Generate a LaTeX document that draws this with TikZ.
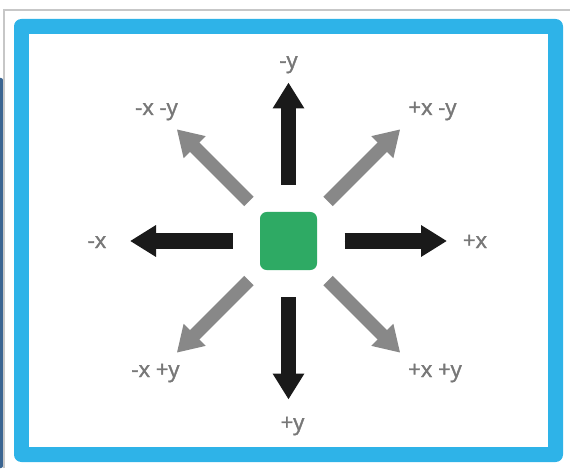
\documentclass[tikz,border=0pt]{standalone}
\usepackage{fontspec}
\setmainfont{Open Sans}
\newfontfamily\lblfont[FakeBold=1.6]{Open Sans}
\usepackage{xcolor}
\usepackage{tikz}
\usetikzlibrary{arrows.meta,calc}
\definecolor{frameblue}{HTML}{2EB3E8}
\definecolor{sideblue}{HTML}{3B6591}
\definecolor{pxgreen}{HTML}{2EAA64}
\definecolor{dirblack}{HTML}{1A1A1A}
\definecolor{dirgray}{HTML}{888888}
\definecolor{lblgray}{HTML}{777777}

\begin{document}
\begin{tikzpicture}[
  x=0.75pt,y=0.75pt,
  font=\lblfont\fontsize{16.5pt}{18pt}\selectfont,
  lbl/.style={text=lblgray,anchor=base,inner sep=0pt},
  pixel/.style={fill=pxgreen,rounded corners=5pt,minimum width=42.75pt,
                minimum height=43.5pt,inner sep=0pt},
  barr/.style={-{Triangle[length=19.5pt,width=22.5pt]},draw=dirblack,
               fill=dirblack,line width=11.5pt},
  garr/.style={-{Triangle[length=19pt,width=22pt]},draw=dirgray,
               fill=dirgray,line width=10pt}]
\useasboundingbox (0,0) rectangle (570,468);
% page edges behind the card
\fill[sideblue,rounded corners=1.5pt] (-3,0) rectangle (3,390);
\draw[black!22,line width=1.2pt] (4,0) -- (4,458) -- (570,458);
% card
\fill[frameblue,rounded corners=5.5pt] (14,6) rectangle (563,449);
\fill[white] (29,21) rectangle (548,434);
\node[pixel] (c) at (288.5,227) {};
% straight directions
\foreach \a/\n in {0/px,90/my,180/mx,270/py}{
  \coordinate (s\n) at ($(c)+(\a:56)$);
  \coordinate (t\n) at ($(c)+(\a:158.5)$);
  \draw[barr] (s\n) -- (t\n);
}
% diagonal directions
\foreach \a/\n in {45/pxmy,135/mxmy,225/mxpy,315/pxpy}{
  \coordinate (s\n) at ($(c)+(\a:56)$);
  \coordinate (t\n) at ($(c)+(\a:158)$);
  \draw[garr] (s\n) -- (t\n);
}
\node[lbl] (lmy) at (288.5,400) {-y};
\node[lbl] (lpy) at (292.5,38) {+y};
\node[lbl] (lmx) at (97,220) {-x};
\node[lbl] (lpx) at (475,220) {+x};
\node[lbl] (lmxmy) at (156.5,353) {-x -y};
\node[lbl] (lpxmy) at (432.5,353) {+x -y};
\node[lbl] (lmxpy) at (155.5,91) {-x +y};
\node[lbl] (lpxpy) at (435,91) {+x +y};
\end{tikzpicture}
\end{document}
